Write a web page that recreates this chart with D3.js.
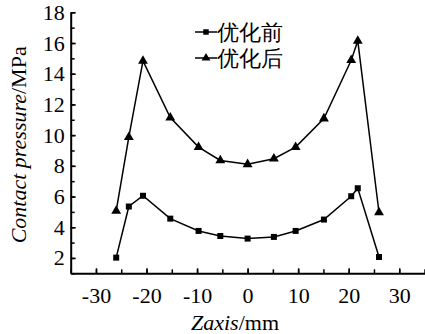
<!DOCTYPE html>
<html>
<head>
<meta charset="utf-8">
<script src="https://cdn.jsdelivr.net/npm/d3@7"></script>
<style>
  body { margin: 0; background: #fff; }
  text { font-family: "Liberation Serif", "DejaVu Serif", serif; }
</style>
</head>
<body>
<div id="chart"></div>
<script>
// contact pressure along z axis, before / after optimisation
const zaxis = [-26, -23.5, -20.7, -15.3, -9.7, -5.4, 0, 5.2, 9.5, 15.1, 20.5, 21.8, 26];
const before = [2.02, 5.35, 6.05, 4.56, 3.76, 3.43, 3.26, 3.37, 3.76, 4.5, 6.02, 6.54, 2.06];
const after = [5.07, 9.87, 14.84, 11.14, 9.22, 8.35, 8.1, 8.46, 9.22, 11.08, 14.88, 16.14, 4.96];
const seriesNames = ["优化前", "优化后"];
const xTicks = [-30, -20, -10, 0, 10, 20, 30];
const yTicks = [2, 4, 6, 8, 10, 12, 14, 16, 18];

const width = 425, height = 334;
const mLeft = 70.7, mRight = 424.5, mTop = 12.3, mBottom = 273.3;

const svg = d3.select("#chart").append("svg")
    .attr("width", width)
    .attr("height", height);

const x = d3.scaleLinear().domain([-35, 35]).range([mLeft, mRight]);
const y = d3.scaleLinear().domain([1, 18]).range([mBottom, mTop]);

// minor ticks
svg.append("g")
    .attr("transform", `translate(0,${mBottom})`)
    .call(d3.axisBottom(x).tickValues(d3.range(-35, 36, 5)).tickSize(-4).tickFormat(""))
    .call(g => g.select(".domain").remove())
    .call(g => g.selectAll("line").attr("stroke-width", 1.5));
svg.append("g")
    .attr("transform", `translate(${mLeft},0)`)
    .call(d3.axisLeft(y).tickValues(d3.range(1, 18.5, 1)).tickSize(-4).tickFormat(""))
    .call(g => g.select(".domain").remove())
    .call(g => g.selectAll("line").attr("stroke-width", 1.5));

// major ticks + labels (plain hyphen for negatives)
svg.append("g")
    .attr("transform", `translate(0,${mBottom})`)
    .call(d3.axisBottom(x).tickValues(xTicks).tickSize(-5).tickPadding(14).tickSizeOuter(0)
        .tickFormat(d => String(d)))
    .call(g => g.select(".domain").attr("stroke-width", 2))
    .call(g => g.selectAll("line").attr("stroke-width", 1.5))
    .call(g => g.selectAll("text").attr("font-size", 22).attr("font-family", "Liberation Serif")
        .attr("fill", "#000").attr("dy", "0.72em"));
svg.append("g")
    .attr("transform", `translate(${mLeft},0)`)
    .call(d3.axisLeft(y).tickValues(yTicks).tickSize(-5).tickPadding(6).tickSizeOuter(0)
        .tickFormat(d => String(d)))
    .call(g => g.select(".domain").attr("stroke-width", 2))
    .call(g => g.selectAll("line").attr("stroke-width", 1.5))
    .call(g => g.selectAll("text").attr("font-size", 22).attr("font-family", "Liberation Serif")
        .attr("fill", "#000"));

const line = d3.line().x((d, i) => x(zaxis[i])).y(d => y(d));

function drawSeries(data, symbol, size) {
    svg.append("path")
        .datum(data)
        .attr("d", line)
        .attr("fill", "none")
        .attr("stroke", "#000")
        .attr("stroke-width", 1.5);
    svg.selectAll(null)
        .data(data)
        .enter()
        .append("path")
        .attr("d", d3.symbol().type(symbol).size(size))
        .attr("transform", (d, i) => `translate(${x(zaxis[i])},${y(d)})`)
        .attr("fill", "#000");
}
drawSeries(before, d3.symbolSquare, 36);
drawSeries(after, d3.symbolTriangle, 42);

// legend
const legend = [
    { name: seriesNames[0], sym: d3.symbolSquare, size: 30, yy: 32 },
    { name: seriesNames[1], sym: d3.symbolTriangle, size: 34, yy: 58 }
];
legend.forEach(l => {
    svg.append("line")
        .attr("x1", 195).attr("x2", 217)
        .attr("y1", l.yy).attr("y2", l.yy)
        .attr("stroke", "#000").attr("stroke-width", 1.5);
    svg.append("path")
        .attr("d", d3.symbol().type(l.sym).size(l.size))
        .attr("transform", `translate(206,${l.yy})`);
    svg.append("text")
        .attr("x", 217)
        .attr("y", l.yy + 8)
        .attr("font-size", 22)
        .attr("font-family", "Noto Sans CJK SC")
        .text(l.name);
});

// axis titles
const xt = svg.append("text")
    .attr("x", 235)
    .attr("y", 330)
    .attr("text-anchor", "middle")
    .attr("font-size", 22);
xt.append("tspan").attr("font-style", "italic").text("Zaxis");
xt.append("tspan").text("/mm");

const yt = svg.append("text")
    .attr("transform", `translate(26,${(mTop + mBottom) / 2 + 2}) rotate(-90)`)
    .attr("text-anchor", "middle")
    .attr("font-size", 22);
yt.append("tspan").attr("font-style", "italic").text("Contact pressure");
yt.append("tspan").text("/MPa");
</script>
</body>
</html>
